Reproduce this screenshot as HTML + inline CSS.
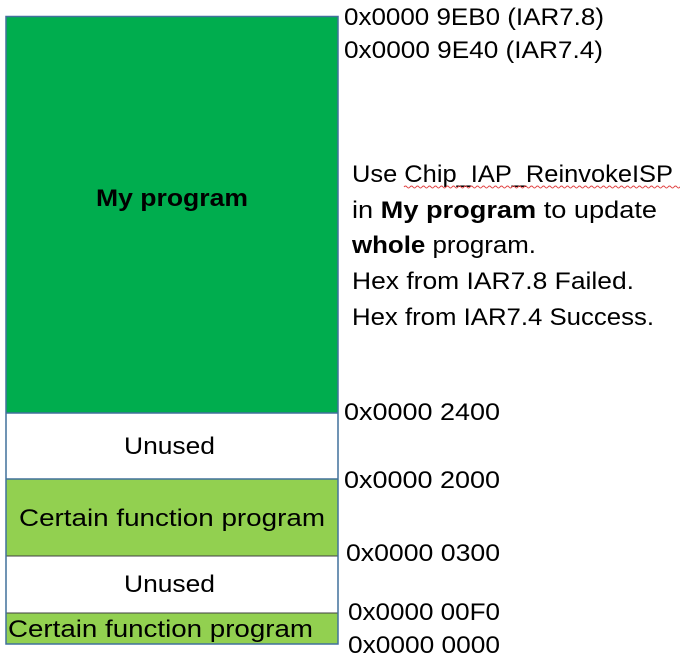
<!DOCTYPE html>
<html><head><meta charset="utf-8"><style>
html,body{margin:0;padding:0;background:#fff;}
svg{display:block;}
text{font-family:"Liberation Sans",sans-serif;font-size:24px;fill:#000;}
</style></head><body>
<svg width="680" height="663" viewBox="0 0 680 663" xmlns="http://www.w3.org/2000/svg">
<rect x="6" y="16.5" width="332" height="396.5" fill="#00ad4e"/>
<rect x="6" y="413" width="332" height="66" fill="#fff"/>
<rect x="6" y="479" width="332" height="77" fill="#92d050"/>
<rect x="6" y="556" width="332" height="57" fill="#fff"/>
<rect x="6" y="613" width="332" height="31" fill="#92d050"/>
<line x1="6" y1="413" x2="338" y2="413" stroke="#41719c" stroke-width="1.5"/>
<line x1="6" y1="479" x2="338" y2="479" stroke="#41719c" stroke-width="1.5"/>
<line x1="6" y1="556" x2="338" y2="556" stroke="#404040" stroke-width="1"/>
<line x1="6" y1="613" x2="338" y2="613" stroke="#404040" stroke-width="1"/>
<rect x="6" y="16.5" width="332" height="627.5" fill="none" stroke="#41719c" stroke-width="1.5"/>

<text x="96" y="206" textLength="152" lengthAdjust="spacingAndGlyphs" font-weight="bold">My program</text>
<text x="124" y="454" textLength="91" lengthAdjust="spacingAndGlyphs">Unused</text>
<text x="19" y="526" textLength="306" lengthAdjust="spacingAndGlyphs">Certain function program</text>
<text x="124" y="592" textLength="91" lengthAdjust="spacingAndGlyphs">Unused</text>
<text x="8" y="637" textLength="305" lengthAdjust="spacingAndGlyphs">Certain function program</text>

<text x="344" y="25" textLength="260" lengthAdjust="spacingAndGlyphs">0x0000 9EB0 (IAR7.8)</text>
<text x="344" y="58" textLength="259" lengthAdjust="spacingAndGlyphs">0x0000 9E40 (IAR7.4)</text>
<text x="344" y="420" textLength="156" lengthAdjust="spacingAndGlyphs">0x0000 2400</text>
<text x="344" y="488" textLength="156" lengthAdjust="spacingAndGlyphs">0x0000 2000</text>
<text x="346" y="561" textLength="154" lengthAdjust="spacingAndGlyphs">0x0000 0300</text>
<text x="348" y="620" textLength="152" lengthAdjust="spacingAndGlyphs">0x0000 00F0</text>
<text x="348" y="653" textLength="152" lengthAdjust="spacingAndGlyphs">0x0000 0000</text>

<text x="352" y="182" textLength="321" lengthAdjust="spacingAndGlyphs">Use Chip_IAP_ReinvokeISP</text>
<path d="M404 187 q1.5 -2 3 0 t3 0 t3 0 t3 0 t3 0 t3 0 t3 0 t3 0 t3 0 t3 0 t3 0 t3 0 t3 0 t3 0 t3 0 t3 0 t3 0 t3 0 t3 0 t3 0 t3 0 t3 0 t3 0 t3 0 t3 0 t3 0 t3 0 t3 0 t3 0 t3 0 t3 0 t3 0 t3 0 t3 0 t3 0 t3 0 t3 0 t3 0 t3 0 t3 0 t3 0 t3 0 t3 0 t3 0 t3 0 t3 0 t3 0 t3 0 t3 0 t3 0 t3 0 t3 0 t3 0 t3 0 t3 0 t3 0 t3 0 t3 0 t3 0 t3 0 t3 0 t3 0 t3 0 t3 0 t3 0 t3 0 t3 0 t3 0 t3 0 t3 0 t3 0 t3 0 t3 0 t3 0 t3 0 t3 0 t3 0 t3 0 t3 0 t3 0 t3 0 t3 0 t3 0 t3 0 t3 0 t3 0 t3 0 t3 0 t3 0 t3 0 t3 0 t3 0 t3 0 t3 0 t3 0 t3 0 t3 0 t3 0 t3 0" fill="none" stroke="#e04040" stroke-width="1"/>
<text x="352" y="218" textLength="305" lengthAdjust="spacingAndGlyphs">in <tspan font-weight="bold">My program</tspan> to update</text>
<text x="352" y="253" textLength="184" lengthAdjust="spacingAndGlyphs"><tspan font-weight="bold">whole</tspan> program.</text>
<text x="352" y="289" textLength="282" lengthAdjust="spacingAndGlyphs">Hex from IAR7.8 Failed.</text>
<text x="352" y="325" textLength="302" lengthAdjust="spacingAndGlyphs">Hex from IAR7.4 Success.</text>
</svg>
</body></html>
